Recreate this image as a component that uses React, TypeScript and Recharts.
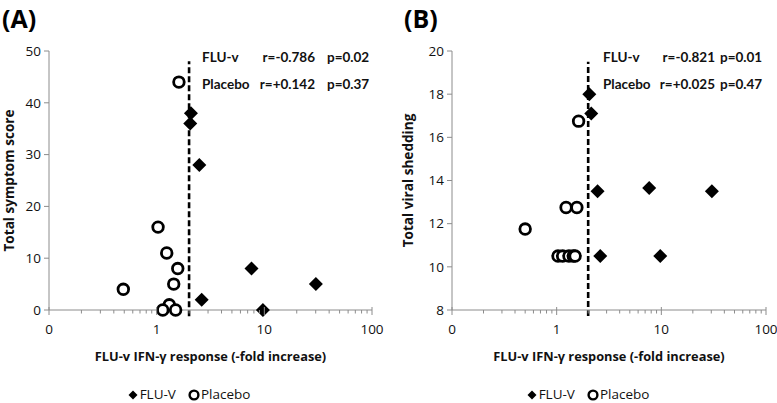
import React from 'react';
import { ScatterChart, Scatter, XAxis, YAxis, ReferenceLine } from 'recharts';

// (A) symptom score vs IFN-g fold increase
const symptomFluvX = [2.08, 2.05, 2.49, 2.62, 7.6, 30.1, 9.7];
const symptomFluvY = [38, 36, 28, 2, 8, 5, 0];
const symptomPlaceboX = [1.61, 1.03, 1.24, 1.57, 1.44, 0.49, 1.31, 1.14, 1.5];
const symptomPlaceboY = [44, 16, 11, 8, 5, 4, 1, 0, 0];

// (B) viral shedding vs IFN-g fold increase
const sheddingFluvX = [2.05, 2.14, 2.46, 7.66, 30.4, 2.61, 9.77];
const sheddingFluvY = [18, 17.1, 13.5, 13.65, 13.5, 10.5, 10.5];
const sheddingPlaceboX = [1.62, 1.23, 1.56, 0.5, 1.03, 1.14, 1.31, 1.44, 1.5];
const sheddingPlaceboY = [16.75, 12.75, 12.75, 11.75, 10.5, 10.5, 10.5, 10.5, 10.5];

const cutoff = 2;
const symptomCutoffRange = [-1.2, 48];
const sheddingCutoffRange = [7.72, 19.5];

const xMajorTicks = [0.1, 1, 10, 100];
const xMajorLabels = ['0', '1', '10', '100'];
const xMinorTicks = [
  0.2, 0.3, 0.4, 0.5, 0.6, 0.7, 0.8, 0.9,
  2, 3, 4, 5, 6, 7, 8, 9,
  20, 30, 40, 50, 60, 70, 80, 90,
];
const symptomTicks = [0, 10, 20, 30, 40, 50];
const sheddingTicks = [8, 10, 12, 14, 16, 18, 20];

const statsA = [
  { group: 'FLU-v', r: 'r=-0.786', p: 'p=0.02' },
  { group: 'Placebo', r: 'r=+0.142', p: 'p=0.37' },
];
const statsB = [
  { group: 'FLU-v', r: 'r=-0.821', p: 'p=0.01' },
  { group: 'Placebo', r: 'r=+0.025', p: 'p=0.47' },
];

const FONT = '"Open Sans", Lato, sans-serif';
const STAT_FONT = 'Lato, "Open Sans", sans-serif';
const AXIS = '#8c8c8c';
const INK = '#111';
const xLabel = 'FLU-v IFN-\u03b3 response (-fold increase)';

const toPoints = (xs: number[], ys: number[]) => xs.map((x, i) => ({ x, y: ys[i] }));

const Diamond = (props: any) => {
  const { cx, cy } = props;
  const r = 7;
  return <polygon points={`${cx},${cy - r} ${cx + r},${cy} ${cx},${cy + r} ${cx - r},${cy}`} fill="#000" />;
};

const Ring = (props: any) => {
  const { cx, cy } = props;
  return <circle cx={cx} cy={cy} r={5.3} fill="#fff" stroke="#000" strokeWidth={2.8} />;
};

const LogTick = (props: any) => {
  const { x, y, payload } = props;
  const idx = xMajorTicks.indexOf(payload.value);
  const major = idx >= 0;
  return (
    <g>
      <line x1={x} x2={x} y1={major ? y - 3 : y} y2={y + (major ? 5 : 3.5)} stroke={AXIS} strokeWidth={1} />
      {major && (
        <text x={x} y={y + 24} textAnchor="middle" fontSize={13.5} fontFamily={FONT} fill={INK}>
          {xMajorLabels[idx]}
        </text>
      )}
    </g>
  );
};

const LegendBox: React.FC<{ center: number }> = ({ center }) => (
  <div
    style={{
      position: 'absolute',
      left: center - 150,
      width: 300,
      top: 387,
      height: 15,
      lineHeight: '15px',
      display: 'flex',
      justifyContent: 'center',
      alignItems: 'center',
      fontFamily: FONT,
      fontSize: 13.5,
      color: INK,
    }}
  >
    <svg width={10} height={10} style={{ marginRight: 2 }}>
      <polygon points="5,0.5 9.5,5 5,9.5 0.5,5" fill="#000" />
    </svg>
    <span style={{ marginRight: 12 }}>FLU-V</span>
    <svg width={12} height={12} style={{ marginRight: 1 }}>
      <circle cx={6} cy={6} r={4.4} fill="#fff" stroke="#000" strokeWidth={2.4} />
    </svg>
    <span>Placebo</span>
  </div>
);

interface PanelProps {
  width: number;
  yAxisWidth: number;
  rightMargin: number;
  yLabel: string;
  yLabelOffset: number;
  yTicks: number[];
  cutoffRange: number[];
  fluv: { x: number; y: number }[];
  placebo: { x: number; y: number }[];
}

const Panel: React.FC<PanelProps> = ({
  width, yAxisWidth, rightMargin, yLabel, yLabelOffset, yTicks, cutoffRange, fluv, placebo,
}) => (
  <ScatterChart
    width={width}
    height={403}
    margin={{ top: 51, right: rightMargin, left: 0, bottom: 20 }}
    style={{ fontFamily: FONT, overflow: 'visible' }}
  >
    <XAxis
      type="number"
      dataKey="x"
      scale="log"
      domain={[0.1, 100]}
      allowDataOverflow
      ticks={[...xMajorTicks, ...xMinorTicks].sort((a, b) => a - b)}
      interval={0}
      tick={<LogTick />}
      tickLine={false}
      tickSize={0}
      tickMargin={0}
      stroke={AXIS}
      height={73}
      label={{
        value: xLabel,
        position: 'insideBottom',
        offset: 22,
        fontSize: 12.8,
        fontWeight: 700,
        fill: INK,
        style: { fontFamily: FONT, fontSize: 12.8, fontWeight: 700, fill: INK },
      }}
    />
    <YAxis
      type="number"
      dataKey="y"
      domain={[yTicks[0], yTicks[yTicks.length - 1]]}
      ticks={yTicks}
      interval={0}
      width={yAxisWidth}
      stroke={AXIS}
      tickSize={5}
      tickMargin={3}
      tick={{ fill: INK, fontSize: 13.5, fontFamily: FONT }}
      label={{
        value: yLabel,
        angle: -90,
        position: 'insideLeft',
        offset: yLabelOffset,
        fontSize: 13.6,
        fontWeight: 700,
        fill: INK,
        style: { textAnchor: 'middle', fontFamily: FONT, fontSize: 13.6, fontWeight: 700, fill: INK },
      }}
    />
    <ReferenceLine
      segment={[{ x: cutoff, y: cutoffRange[0] }, { x: cutoff, y: cutoffRange[1] }]}
      stroke="#000"
      strokeWidth={2.6}
      strokeDasharray="6 3"
      ifOverflow="visible"
    />
    <Scatter name="Placebo" data={placebo} shape={<Ring />} isAnimationActive={false} />
    <Scatter name="FLU-V" data={fluv} shape={<Diamond />} isAnimationActive={false} />
  </ScatterChart>
);

const statStyle: React.CSSProperties = {
  position: 'absolute',
  fontFamily: STAT_FONT,
  fontSize: 13.5,
  fontWeight: 700,
  lineHeight: '18px',
  color: INK,
  whiteSpace: 'nowrap',
};

const Stats: React.FC<{ left: number; rRight: number; pLeft: number; rows: typeof statsA }> = ({ left, rRight, pLeft, rows }) => (
  <>
    {rows.map((row, i) => (
      <React.Fragment key={row.group}>
        <div style={{ ...statStyle, left, top: 48 + i * 27 }}>{row.group}</div>
        <div style={{ ...statStyle, left: rRight - 80, width: 80, textAlign: 'right', top: 48 + i * 27 }}>{row.r}</div>
        <div style={{ ...statStyle, left: pLeft, top: 48 + i * 27 }}>{row.p}</div>
      </React.Fragment>
    ))}
  </>
);

const titleStyle: React.CSSProperties = {
  position: 'absolute',
  top: 0,
  fontFamily: FONT,
  fontSize: 25,
  fontWeight: 700,
  lineHeight: '36px',
  color: '#000',
};

export default function App() {
  return (
    <div style={{ position: 'absolute', left: 0, top: 0, width: 777, height: 403, background: '#fff' }}>
      <div style={{ position: 'absolute', left: 0, top: 0 }}>
        <Panel
          width={390}
          yAxisWidth={49}
          rightMargin={18}
          yLabel="Total symptom score"
          yLabelOffset={9}
          yTicks={symptomTicks}
          cutoffRange={symptomCutoffRange}
          fluv={toPoints(symptomFluvX, symptomFluvY)}
          placebo={toPoints(symptomPlaceboX, symptomPlaceboY)}
        />
      </div>
      <div style={{ position: 'absolute', left: 390, top: 0 }}>
        <Panel
          width={387}
          yAxisWidth={62}
          rightMargin={11}
          yLabel="Total viral shedding"
          yLabelOffset={18}
          yTicks={sheddingTicks}
          cutoffRange={sheddingCutoffRange}
          fluv={toPoints(sheddingFluvX, sheddingFluvY)}
          placebo={toPoints(sheddingPlaceboX, sheddingPlaceboY)}
        />
      </div>
      <LegendBox center={189} />
      <LegendBox center={588} />
      <div style={{ ...titleStyle, left: 2 }}>(A)</div>
      <div style={{ ...titleStyle, left: 404 }}>(B)</div>
      <Stats left={202} rRight={315} pLeft={327} rows={statsA} />
      <Stats left={603} rRight={715} pLeft={720} rows={statsB} />
    </div>
  );
}
